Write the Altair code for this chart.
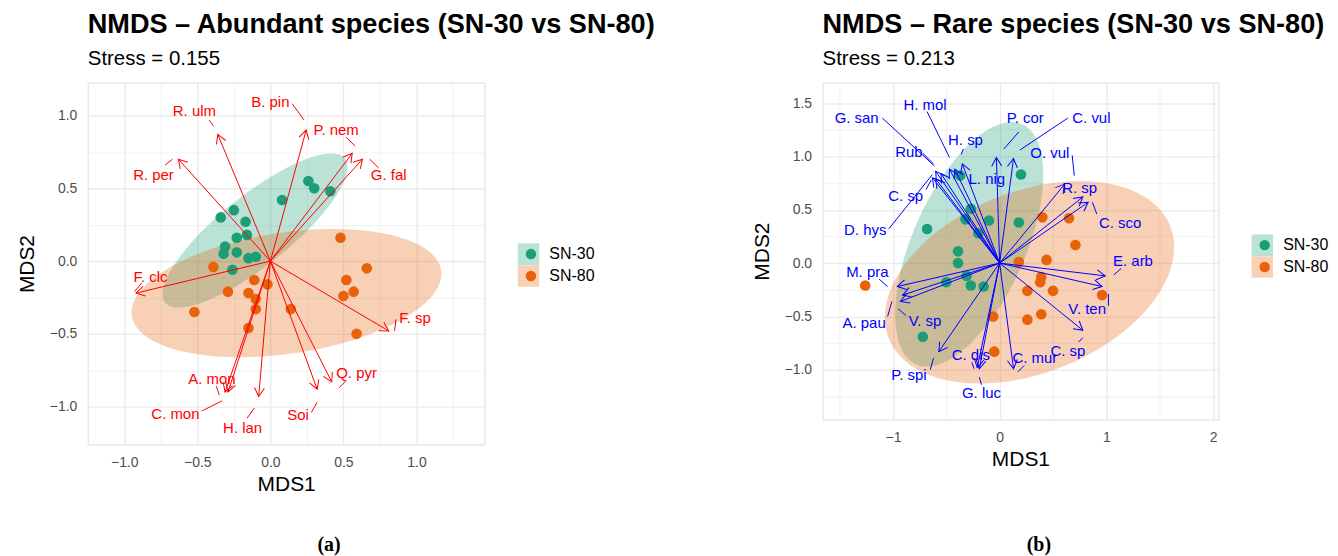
import numpy as np
import pandas as pd
import altair as alt

F = "Liberation Sans"
GREEN = "#1B9E77"
ORANGE = "#E8620A"
GROUPS = ["SN-30", "SN-80"]

# ---------------- Panel (a): abundant species ----------------
A_SN30_X = [0.26, 0.30, 0.41, 0.08, -0.25, -0.34, -0.17, -0.23, -0.16, -0.31, -0.32, -0.23, -0.15, -0.10, -0.26]
A_SN30_Y = [0.55, 0.50, 0.48, 0.42, 0.35, 0.30, 0.27, 0.16, 0.18, 0.10, 0.05, 0.06, 0.02, 0.03, -0.06]
A_SN80_X = [-0.39, -0.11, -0.02, -0.29, -0.15, -0.10, -0.10, 0.14, -0.52, -0.15, 0.48, 0.66, 0.52, 0.57, 0.50, 0.59]
A_SN80_Y = [-0.04, -0.13, -0.16, -0.21, -0.22, -0.26, -0.33, -0.33, -0.35, -0.46, 0.16, -0.05, -0.13, -0.21, -0.24, -0.50]

A_SPECIES = ["R. ulm", "B. pin", "P. nem", "G. fal", "R. per", "F. clc", "F. sp", "Q. pyr", "Soi", "H. lan", "A. mon", "C. mon"]
A_TIP_X = [-0.36, 0.245, 0.56, 0.63, -0.63, -0.92, 0.81, 0.42, 0.32, -0.08, -0.29, -0.31]
A_TIP_Y = [0.87, 0.90, 0.74, 0.70, 0.70, -0.22, -0.48, -0.83, -0.88, -0.93, -0.90, -0.90]
A_LAB_X = [-0.52, 0.0, 0.45, 0.81, -0.80, -0.82, 0.99, 0.59, 0.19, -0.19, -0.40, -0.65]
A_LAB_Y = [1.03, 1.09, 0.90, 0.59, 0.59, -0.11, -0.39, -0.77, -1.06, -1.15, -0.81, -1.05]
A_SEG_X1 = [-0.42, 0.15, 0.52, 0.68, -0.72, -0.93, 0.85, 0.47, 0.28, -0.16, -0.37, -0.47]
A_SEG_Y1 = [0.97, 1.08, 0.85, 0.70, 0.66, -0.21, -0.48, -0.87, -1.04, -1.08, -0.86, -1.03]
A_SEG_X2 = [-0.39, 0.23, 0.58, 0.74, -0.67, -0.88, 0.86, 0.52, 0.32, -0.11, -0.35, -0.33]
A_SEG_Y2 = [0.93, 0.97, 0.79, 0.64, 0.70, -0.15, -0.40, -0.82, -0.97, -1.01, -0.92, -0.96]

# ellipse parameters: centre x, centre y, semi-major, semi-minor, angle (deg)
A_ELL_30 = [-0.105, 0.21, 0.79, 0.24, 38.8]
A_ELL_80 = [0.11, -0.22, 1.07, 0.416, 8.4]

# ---------------- Panel (b): rare species ----------------
B_SN30_X = [0.20, -0.37, -0.27, -0.32, -0.10, 0.18, -0.20, -0.68, -0.39, -0.39, -0.50, -0.31, -0.27, -0.15, -0.72]
B_SN30_Y = [0.83, 0.82, 0.51, 0.41, 0.40, 0.38, 0.28, 0.32, 0.11, 0.00, -0.18, -0.12, -0.21, -0.22, -0.69]
B_SN80_X = [-1.26, 0.40, 0.65, 0.71, 0.18, 0.44, 0.39, 0.38, 0.26, 0.50, 0.96, -0.06, 0.26, 0.39, -0.05]
B_SN80_Y = [-0.21, 0.43, 0.42, 0.17, 0.01, 0.03, -0.13, -0.18, -0.26, -0.26, -0.30, -0.50, -0.53, -0.48, -0.83]

B_SPECIES = ["G. san", "H. mol", "H. sp", "Rub", "C. sp", "D. hys", "L. nig", "P. cor", "C. vul", "O. vul", "R. sp",
             "C. sco", "E. arb", "V. ten", "C. sp", "C. mur", "C. dis", "G. luc", "P. spi", "V. sp", "A. pau", "M. pra"]
B_TIP_X = [-0.60, -0.47, -0.35, -0.55, -0.60, -0.63, -0.42, -0.03, 0.13, 0.78, 0.61,
           0.83, 0.99, 0.96, 0.78, 0.13, -0.21, -0.19, -0.57, -0.93, -0.91, -0.96]
B_TIP_Y = [0.86, 0.88, 0.93, 0.84, 0.79, 0.80, 0.88, 0.99, 0.98, 0.62, 0.74,
           0.57, -0.12, -0.22, -0.63, -0.99, -0.98, -0.99, -0.83, -0.36, -0.30, -0.22]
B_LAB_X = [-1.34, -0.70, -0.32, -0.85, -0.88, -1.26, -0.12, 0.24, 0.86, 0.47, 0.75,
           1.13, 1.25, 0.82, 0.64, 0.33, -0.27, -0.17, -0.85, -0.70, -1.27, -1.24]
B_LAB_Y = [1.36, 1.48, 1.15, 1.04, 0.63, 0.31, 0.79, 1.36, 1.36, 1.03, 0.70,
           0.38, 0.02, -0.43, -0.82, -0.89, -0.86, -1.22, -1.05, -0.54, -0.56, -0.08]
B_SEG_X1 = [-1.10, -0.68, -0.34, -0.72, -0.69, -1.04, None, 0.18, 0.64, 0.68, None,
            0.87, 1.14, 1.02, 0.74, 0.17, -0.26, -0.19, -0.65, -0.88, -1.05, -1.13]
B_SEG_Y1 = [1.36, 1.42, 1.07, 1.03, 0.69, 0.32, None, 1.23, 1.36, 1.01, None,
            0.57, -0.05, -0.29, -0.74, -1.02, -0.93, -1.07, -1.00, -0.49, -0.50, -0.15]
B_SEG_X2 = [-0.61, -0.47, -0.36, -0.62, -0.64, -0.63, None, 0.04, 0.19, 0.70, None,
            0.91, 1.07, 1.02, 0.78, 0.23, -0.24, -0.17, -0.62, -0.95, -1.01, -1.05]
B_SEG_Y2 = [0.91, 0.99, 1.02, 0.93, 0.78, 0.83, None, 1.07, 1.06, 0.82, None,
            0.46, -0.11, -0.40, -0.70, -0.96, -0.99, -1.14, -0.89, -0.43, -0.36, -0.22]

B_ELL_30 = [-0.285, 0.175, 1.23, 0.53, 66.2]
B_ELL_80 = [0.28, -0.18, 1.42, 0.85, 21.8]

HEAD = "M-1,-0.577L0,0L-1,0.577"


def ellipse_band(cx, cy, a, b, ang_deg, n=140):
    t = np.radians(ang_deg)
    c, s = np.cos(t), np.sin(t)
    A = c ** 2 / a ** 2 + s ** 2 / b ** 2
    B = 2 * c * s * (1 / a ** 2 - 1 / b ** 2)
    C = s ** 2 / a ** 2 + c ** 2 / b ** 2
    hx = np.sqrt(a ** 2 * c ** 2 + b ** 2 * s ** 2)
    u = hx * np.cos(np.linspace(np.pi, 0, n))
    disc = np.clip(B ** 2 * u ** 2 - 4 * C * (A * u ** 2 - 1), 0, None)
    v1 = (-B * u - np.sqrt(disc)) / (2 * C)
    v2 = (-B * u + np.sqrt(disc)) / (2 * C)
    return cx + u, cy + v1, cy + v2


def make_axis(major, minor, fmt, title, is_x):
    test = "indexof(%s, datum.value) >= 0" % str(minor)
    return alt.Axis(
        values=major + minor, format=fmt,
        labelExpr=f"{test} ? '' : datum.label",
        grid=True, gridColor="#EBEBEB",
        gridWidth={"condition": {"test": test, "value": 0.7}, "value": 1.4},
        ticks=False, domain=False, labelFont=F, labelFontSize=14, labelColor="#4D4D4D",
        labelPadding=11, labelFlush=False, labelOverlap=False,
        title=title, titleFont=F, titleFontSize=21, titleFontWeight="normal", titleColor="black",
        titlePadding=4 if is_x else 12,
    )


def panel(p30x, p30y, p80x, p80y, e30, e80, sp, tx, ty, lx, ly, sx1, sy1, sx2, sy2,
          xdom, ydom, w, h, xmaj, xmin, ymaj, ymin, xfmt, yfmt, col, title, subtitle,
          lgx, lgy, caption, capx, capy):
    pts = pd.DataFrame({
        "grp": [GROUPS[0]] * len(p30x) + [GROUPS[1]] * len(p80x),
        "x": p30x + p80x, "y": p30y + p80y,
    })
    rows = []
    for g, e in zip(GROUPS, [e30, e80]):
        ex, lo, hi = ellipse_band(*e)
        rows.append(pd.DataFrame({"grp": g, "x": ex, "ylo": lo, "yhi": hi}))
    ell = pd.concat(rows, ignore_index=True)
    arr = pd.DataFrame({"sp": sp, "ox": 0.0, "oy": 0.0, "tx": tx, "ty": ty, "lx": lx, "ly": ly})
    arr["ang"] = (-np.degrees(np.arctan2(arr["ty"], arr["tx"]))) % 360
    seg = pd.DataFrame({"x1": sx1, "y1": sy1, "x2": sx2, "y2": sy2}).dropna()

    xs = alt.Scale(domain=xdom, nice=False, zero=False)
    ys = alt.Scale(domain=ydom, nice=False, zero=False)
    xa = make_axis(xmaj, xmin, xfmt, "MDS1", True)
    ya = make_axis(ymaj, ymin, yfmt, "MDS2", False)

    def X(f):
        return alt.X(f, type="quantitative", scale=xs, axis=xa)

    def Y(f):
        return alt.Y(f, type="quantitative", scale=ys, axis=ya)

    sq_leg = alt.Legend(title=None, orient="none", legendX=lgx, legendY=lgy, symbolType="square",
                        symbolSize=470, symbolOpacity=0.3, symbolStrokeWidth=0, labelFont=F,
                        labelFontSize=16, labelColor="black", labelOffset=10, rowPadding=0,
                        clipHeight=22, padding=0)
    ci_leg = alt.Legend(title=None, orient="none", legendX=lgx, legendY=lgy, symbolType="circle",
                        symbolSize=110, symbolOpacity=1, symbolStrokeWidth=0, labelFont=F,
                        labelFontSize=16, labelColor="transparent", labelOffset=10, rowPadding=0,
                        clipHeight=22, symbolOffset=5.5, padding=0)

    ell_l = alt.Chart(ell).mark_area(opacity=0.3).encode(
        x=X("x"), y=Y("ylo"), y2="yhi",
        fill=alt.Fill("grp:N", scale=alt.Scale(domain=GROUPS, range=[GREEN, ORANGE]), legend=sq_leg),
    )
    pts_l = alt.Chart(pts).mark_circle(size=113, opacity=1).encode(
        x=X("x"), y=Y("y"),
        color=alt.Color("grp:N", scale=alt.Scale(range=[GREEN, ORANGE]), legend=ci_leg),
    )
    arr_l = alt.Chart(arr).mark_rule(color=col, strokeWidth=1).encode(
        x=X("ox"), y=Y("oy"), x2="tx", y2="ty")
    head_l = alt.Chart(arr).mark_point(shape=HEAD, size=300, filled=False, color=col,
                                       strokeWidth=1, opacity=1).encode(
        x=X("tx"), y=Y("ty"), angle=alt.Angle("ang:Q", scale=None))
    seg_l = alt.Chart(seg).mark_rule(color=col, strokeWidth=1).encode(
        x=X("x1"), y=Y("y1"), x2="x2", y2="y2")
    lab_l = alt.Chart(arr).mark_text(color=col, font=F, fontSize=15).encode(
        x=X("lx"), y=Y("ly"), text="sp:N")
    cap_l = alt.Chart(pd.DataFrame({"c": [caption]})).mark_text(
        font="Liberation Serif", fontSize=20, fontWeight="bold", color="black").encode(
        x=alt.value(capx), y=alt.value(capy), text="c:N")

    return alt.layer(ell_l, pts_l, arr_l, head_l, seg_l, lab_l, cap_l).properties(
        width=w, height=h,
        title=alt.TitleParams(text=title, subtitle=subtitle, anchor="start", frame="group",
                              font=F, fontSize=27.2, fontWeight="bold", color="black",
                              subtitleFont=F, subtitleFontSize=20.5, subtitleColor="black",
                              subtitlePadding=10, offset=12),
    ).resolve_scale(color="independent", fill="independent")


pa = panel(A_SN30_X, A_SN30_Y, A_SN80_X, A_SN80_Y, A_ELL_30, A_ELL_80,
           A_SPECIES, A_TIP_X, A_TIP_Y, A_LAB_X, A_LAB_Y, A_SEG_X1, A_SEG_Y1, A_SEG_X2, A_SEG_Y2,
           [-1.25, 1.466], [-1.26, 1.226], 398, 363,
           [-1.0, -0.5, 0.0, 0.5, 1.0], [-1.25, -0.75, -0.25, 0.25, 0.75, 1.25],
           [-1.0, -0.5, 0.0, 0.5, 1.0], [-1.25, -0.75, -0.25, 0.25, 0.75],
           ".1f", ".1f", "#FF0000",
           "NMDS \u2013 Abundant species (SN-30 vs SN-80)", "Stress = 0.155",
           431, 161, "(a)", 242, 464)

pb = panel(B_SN30_X, B_SN30_Y, B_SN80_X, B_SN80_Y, B_ELL_30, B_ELL_80,
           B_SPECIES, B_TIP_X, B_TIP_Y, B_LAB_X, B_LAB_Y, B_SEG_X1, B_SEG_Y1, B_SEG_X2, B_SEG_Y2,
           [-1.66, 2.05], [-1.467, 1.692], 397, 338,
           [-1, 0, 1, 2], [-1.5, -0.5, 0.5, 1.5],
           [-1.0, -0.5, 0.0, 0.5, 1.0, 1.5], [-1.25, -0.75, -0.25, 0.25, 0.75, 1.25],
           ".0f", ".1f", "#0000FF",
           "NMDS \u2013 Rare species (SN-30 vs SN-80)", "Stress = 0.213",
           430, 152, "(b)", 217, 464)

chart = alt.hconcat(pa, pb, spacing=93).resolve_scale(
    color="independent", fill="independent"
).properties(
    padding={"left": 7, "top": 1, "right": 0, "bottom": 0}
).configure_view(stroke=None).configure(background="white")

chart.save("out.html", embed_options={"renderer": "svg", "actions": False})
